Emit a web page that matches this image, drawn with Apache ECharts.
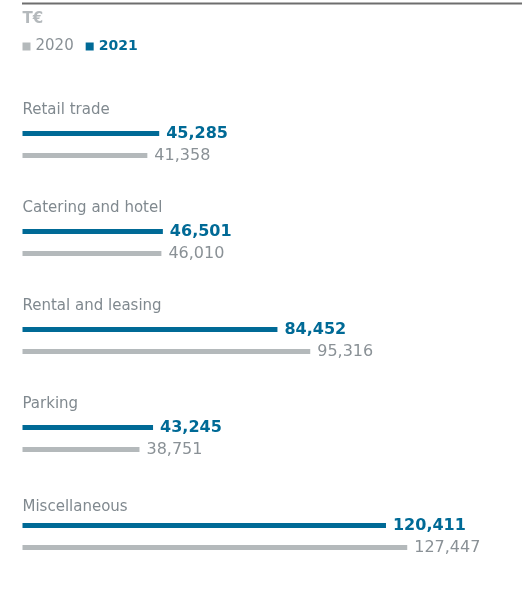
<!DOCTYPE html>
<html><head><meta charset="utf-8">
<script src="https://cdn.jsdelivr.net/npm/echarts@6/dist/echarts.min.js"></script>
<style>html,body{margin:0;padding:0;background:#fff}#c{width:522px;height:601px}</style>
</head><body><div id="c"></div>
<script>
const categories = ['Retail trade', 'Catering and hotel', 'Rental and leasing', 'Parking', 'Miscellaneous'];
const values2021 = [45285, 46501, 84452, 43245, 120411];
const values2020 = [41358, 46010, 95316, 38751, 127447];
const unitLabel = 'T€';
const seriesNames = ['2020', '2021'];

const BLUE = '#006a96', GRAY = '#b4b9bb', FONT = 'DejaVu Sans';
const fmt = v => v.toLocaleString('en-US');

const chart = echarts.init(document.getElementById('c'), null, {renderer: 'canvas'});
chart.setOption({
  animation: false,
  textStyle: {fontFamily: FONT},
  graphic: [
    {type: 'line', shape: {x1: 22, y1: 3.5, x2: 522, y2: 3.5}, style: {stroke: '#6e6e6e', lineWidth: 2}},
    {type: 'text', left: 22.5, top: 12, style: {text: unitLabel, font: 'bold 15px "DejaVu Sans"', fill: '#b4b9bc'}}
  ],
  legend: {
    left: 22.5, top: 39, padding: 0, itemWidth: 8, itemHeight: 8, itemGap: 12, icon: 'rect',
    data: [
      {name: seriesNames[0], textStyle: {color: '#8a9196', fontSize: 15, fontWeight: 'normal'}},
      {name: seriesNames[1], textStyle: {color: BLUE, fontSize: 14, fontWeight: 'bold'}}
    ],
    selectedMode: false
  },
  grid: {left: 22.5, top: 95.5, width: 483, height: 490},
  xAxis: {type: 'value', min: 0, max: 160000, show: false},
  yAxis: {
    type: 'category', inverse: true,
    data: categories.map((c, i) => i === categories.length - 1
      ? {value: c, textStyle: {verticalAlign: 'bottom', lineHeight: 59, color: '#80898f', fontSize: 15, fontFamily: FONT}}
      : c),
    axisLine: {show: false}, axisTick: {show: false},
    axisLabel: {
      inside: true, margin: 0, color: '#80898f', fontSize: 15, fontFamily: FONT,
      verticalAlign: 'bottom', lineHeight: 69
    }
  },
  series: [
    {
      name: seriesNames[1], type: 'bar', data: values2021, barWidth: 5, barGap: '340%',
      itemStyle: {color: BLUE},
      label: {show: true, position: 'right', distance: 7, formatter: p => fmt(p.value),
        color: BLUE, fontWeight: 'bold', fontSize: 16, fontFamily: FONT}
    },
    {
      name: seriesNames[0], type: 'bar', data: values2020, barWidth: 5,
      itemStyle: {color: GRAY},
      label: {show: true, position: 'right', distance: 7, formatter: p => fmt(p.value),
        color: '#8a9196', fontSize: 16, fontFamily: FONT}
    }
  ]
});
</script></body></html>
